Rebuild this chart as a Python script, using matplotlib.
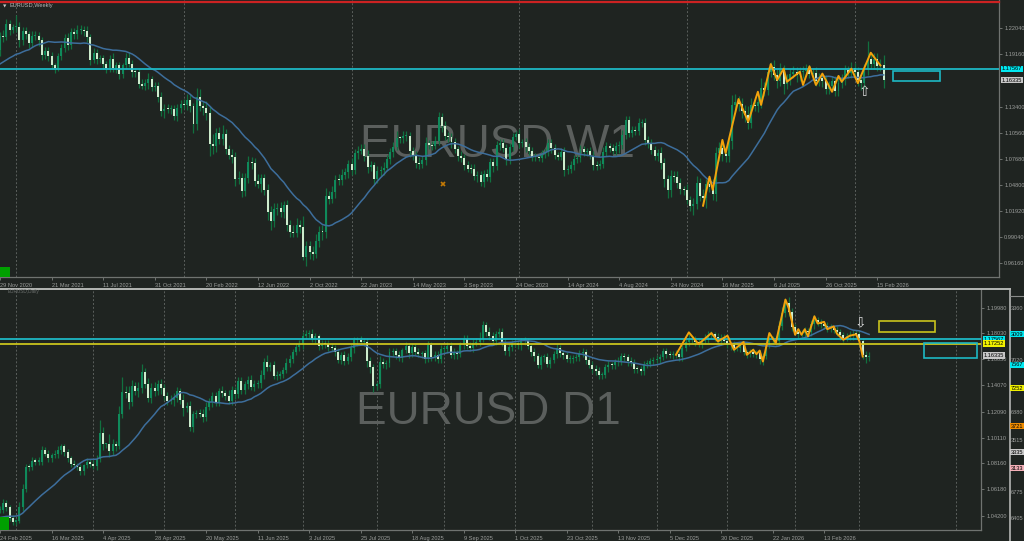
import numpy as np
import pandas as pd
import matplotlib
matplotlib.use("Agg")
import matplotlib.pyplot as plt
from matplotlib.patches import Rectangle
from matplotlib.lines import Line2D

plt.rcParams['font.family'] = ['Liberation Sans', 'DejaVu Sans']

# ------------------------------------------------------------------ data
# Weekly EURUSD (first bar = week of 29 Nov 2020); warm-up closes feed the MA only
w_warm = [1.1655, 1.1778, 1.1785, 1.1842, 1.1793, 1.1903, 1.1837, 1.1845, 1.1842, 1.1631,
          1.1718, 1.1782, 1.1815, 1.1702, 1.1647, 1.1878, 1.1834, 1.1857, 1.1963]
w_close = [
    1.2121, 1.2110, 1.2256, 1.2188, 1.2214, 1.2220, 1.2079, 1.2170, 1.2136, 1.2046,
    1.2118, 1.2118, 1.2076, 1.1915, 1.1952, 1.1904, 1.1795, 1.1763, 1.1899, 1.1983,
    1.2097, 1.2020, 1.2164, 1.2145, 1.2180, 1.2190, 1.2169, 1.2106, 1.1858, 1.1937,
    1.1865, 1.1875, 1.1810, 1.1772, 1.1869, 1.1762, 1.1796, 1.1697, 1.1795, 1.1880,
    1.1813, 1.1727, 1.1719, 1.1596, 1.1573, 1.1600, 1.1644, 1.1558, 1.1568, 1.1446,
    1.1290, 1.1317, 1.1315, 1.1317, 1.1240, 1.1325, 1.1370, 1.1359, 1.1412, 1.1344,
    1.1145, 1.1450, 1.1348, 1.1323, 1.1270, 1.0930, 1.0913, 1.1050, 1.0985, 1.1044,
    1.0877, 1.0811, 1.0790, 1.0545, 1.0551, 1.0411, 1.0557, 1.0730, 1.0719, 1.0518,
    1.0494, 1.0553, 1.0424, 1.0184, 1.0080, 1.0212, 1.0220, 1.0181, 1.0258, 1.0037,
    0.9964, 0.9955, 1.0040, 1.0015, 0.9690, 0.9801, 0.9741, 0.9720, 0.9860, 0.9966,
    0.9959, 1.0355, 1.0325, 1.0399, 1.0535, 1.0530, 1.0584, 1.0617, 1.0705, 1.0645,
    1.0830, 1.0855, 1.0870, 1.0795, 1.0677, 1.0694, 1.0545, 1.0634, 1.0640, 1.0670,
    1.0760, 1.0840, 1.0900, 1.0993, 1.0991, 1.1018, 1.1020, 1.0849, 1.0805, 1.0724,
    1.0708, 1.0750, 1.0940, 1.0920, 1.0910, 1.0968, 1.1228, 1.1125, 1.1015, 1.1004,
    1.0948, 1.0870, 1.0795, 1.0775, 1.0700, 1.0660, 1.0650, 1.0573, 1.0588, 1.0510,
    1.0594, 1.0565, 1.0730, 1.0684, 1.0914, 1.0940, 1.0883, 1.0760, 1.0895, 1.1012,
    1.1037, 1.0940, 1.0950, 1.0895, 1.0855, 1.0790, 1.0784, 1.0778, 1.0822, 1.0838,
    1.0940, 1.0890, 1.0808, 1.0790, 1.0837, 1.0642, 1.0656, 1.0695, 1.0761, 1.0771,
    1.0870, 1.0847, 1.0848, 1.0800, 1.0700, 1.0692, 1.0713, 1.0840, 1.0907, 1.0882,
    1.0855, 1.0910, 1.0916, 1.1028, 1.1193, 1.1048, 1.1083, 1.1075, 1.1162, 1.1163,
    1.0975, 1.0937, 1.0866, 1.0797, 1.0833, 1.0720, 1.0540, 1.0418, 1.0577, 1.0567,
    1.0503, 1.0430, 1.0427, 1.0308, 1.0244, 1.0271, 1.0495, 1.0362, 1.0330, 1.0490,
    1.0459, 1.0374, 1.0834, 1.0881, 1.0816, 1.0802, 1.0960, 1.1357, 1.1395, 1.1365,
    1.1298, 1.1253, 1.1163, 1.1364, 1.1347, 1.1395, 1.1550, 1.1523, 1.1718, 1.1778,
    1.1690, 1.1627, 1.1742, 1.1588, 1.1642, 1.1703, 1.1718, 1.1685, 1.1718, 1.1734,
    1.1745, 1.1703, 1.1717, 1.1625, 1.1655, 1.1626, 1.1535, 1.1565, 1.1620, 1.1513,
    1.1598, 1.1642, 1.1740, 1.1712, 1.1770, 1.1720, 1.1640, 1.1600, 1.1755, 1.1870,
    1.1815, 1.1870, 1.1790, 1.1795, 1.1634,
]
# wick lengths above / below the body, in pips
w_up = [
    45, 60, 50, 35, 40, 130, 55, 50, 45, 40, 55, 60, 40, 35, 45, 50, 40, 25, 35, 50, 45, 55, 40, 45, 55,
    50, 40, 55, 30, 45, 40, 35, 40, 30, 45, 60, 40, 35, 30, 55, 60, 40, 35, 50, 55, 45, 70, 40, 45, 50,
    60, 50, 55, 40, 45, 50, 45, 60, 70, 65, 40, 100, 90, 60, 80, 75, 110, 60, 70, 90, 50, 45, 60, 55, 80,
    60, 50, 70, 60, 60, 80, 45, 50, 60, 60, 70, 55, 75, 40, 60, 55, 70, 75, 50, 120, 65, 60, 70, 80, 60,
    70, 90, 60, 65, 50, 60, 65, 45, 50, 70, 40, 50, 55, 60, 65, 50, 40, 55, 45, 60, 50, 45, 50, 75, 30,
    60, 55, 40, 50, 45, 60, 50, 70, 30, 40, 50, 50, 40, 55, 45, 50, 45, 40, 55, 40, 40, 45, 55, 40, 45,
    45, 55, 45, 50, 45, 50, 40, 45, 50, 40, 40, 55, 40, 50, 50, 45, 40, 35, 45, 50, 40, 50, 45, 35, 45,
    55, 40, 45, 50, 40, 45, 40, 35, 50, 50, 40, 40, 55, 45, 35, 45, 40, 45, 60, 40, 50, 45, 45, 50, 40,
    55, 40, 45, 40, 45, 60, 55, 50, 70, 50, 60, 55, 40, 60, 50, 60, 80, 60, 70, 50, 65, 80, 60, 70, 90,
    80, 70, 110, 80, 60, 70, 60, 90, 70, 60, 70, 110, 60, 60, 50, 80, 70, 80, 60, 60, 55, 70, 65, 60, 60,
    70, 60, 55, 60, 60, 50, 60, 55, 55, 55, 60, 55, 60, 50, 60, 55, 60, 55, 60, 190, 70, 65, 60, 70, 110,
]
w_dn = [
    60, 55, 40, 60, 40, 50, 80, 60, 50, 55, 45, 40, 70, 60, 50, 60, 40, 50, 30, 40, 45, 50, 40, 55, 60,
    40, 45, 50, 60, 40, 50, 40, 55, 60, 50, 40, 45, 50, 35, 40, 40, 55, 50, 45, 40, 50, 60, 45, 40, 50,
    50, 70, 45, 60, 50, 60, 50, 45, 55, 60, 90, 60, 50, 70, 80, 130, 90, 70, 60, 65, 60, 50, 70, 80, 60,
    60, 50, 60, 70, 50, 50, 90, 60, 90, 100, 60, 60, 50, 70, 70, 60, 50, 50, 70, 40, 100, 80, 70, 50, 60,
    90, 60, 60, 50, 60, 50, 55, 45, 60, 60, 50, 60, 40, 55, 70, 50, 60, 50, 60, 55, 40, 45, 50, 40, 45,
    45, 50, 60, 50, 60, 50, 45, 55, 40, 50, 40, 50, 60, 45, 50, 60, 40, 50, 45, 60, 40, 45, 40, 60, 40,
    50, 45, 50, 60, 40, 45, 40, 60, 45, 45, 40, 50, 40, 50, 45, 50, 40, 40, 50, 45, 45, 55, 40, 40, 40,
    60, 40, 50, 55, 45, 40, 50, 45, 40, 55, 50, 40, 45, 40, 45, 40, 50, 80, 45, 40, 40, 45, 50, 45, 40,
    60, 55, 50, 45, 50, 70, 80, 80, 70, 60, 60, 50, 55, 40, 50, 95, 55, 60, 70, 110, 55, 60, 70, 90, 70,
    75, 70, 80, 70, 70, 80, 80, 70, 60, 50, 60, 70, 65, 55, 50, 60, 75, 60, 110, 55, 60, 50, 70, 60, 60,
    60, 50, 70, 55, 60, 65, 55, 60, 55, 60, 55, 55, 60, 60, 55, 60, 70, 75, 55, 60, 60, 55, 60, 55, 90,
]
w_tick_labels = ["29 Nov 2020", "21 Mar 2021", "11 Jul 2021", "31 Oct 2021", "20 Feb 2022",
                 "12 Jun 2022", "2 Oct 2022", "22 Jan 2023", "14 May 2023", "3 Sep 2023",
                 "24 Dec 2023", "14 Apr 2024", "4 Aug 2024", "24 Nov 2024", "16 Mar 2025",
                 "6 Jul 2025", "26 Oct 2025", "15 Feb 2026"]
w_year_starts = [5, 57, 109, 161, 213, 265]
w_price_ticks = [1.22040, 1.19160, 1.13400, 1.10560, 1.07680, 1.04800, 1.01920, 0.99040, 0.96160]
w_zz_idx = [218, 220, 221, 224, 225, 229, 232, 235, 236, 239, 241, 243, 244, 248, 249, 251, 253,
            255, 258, 260, 261, 264, 266, 270, 273]
w_zz_px = [1.0250, 1.0570, 1.0424, 1.0975, 1.0830, 1.1425, 1.1175, 1.1505, 1.1360, 1.1810, 1.1635,
           1.1760, 1.1615, 1.1725, 1.1580, 1.1785, 1.1580, 1.1705, 1.1505, 1.1680, 1.1615, 1.1760,
           1.1600, 1.1935, 1.1795]

# Daily EURUSD (first bar = 24 Feb 2025)
d_warm = [1.0425, 1.0405, 1.0365, 1.0390, 1.0345, 1.0365, 1.0325, 1.0300, 1.0330, 1.0355,
          1.0360, 1.0385, 1.0470, 1.0490, 1.0450, 1.0480, 1.0510, 1.0430, 1.0460]
d_feb25 = [1.0465, 1.0515, 1.0485, 1.0400, 1.0375]
d_mar25 = [1.0380, 1.0485, 1.0625, 1.0790, 1.0785, 1.0835, 1.0830, 1.0830, 1.0920, 1.0890,
           1.0855, 1.0880, 1.0885, 1.0920, 1.0945, 1.0900, 1.0855, 1.0815, 1.0800, 1.0790,
           1.0755, 1.0800, 1.0830, 1.0815]
d_apr25 = [1.0795, 1.0850, 1.1050, 1.0960, 1.0960, 1.0910, 1.0960, 1.0950, 1.1190, 1.1360,
           1.1350, 1.1285, 1.1400, 1.1365, 1.1390, 1.1510, 1.1420, 1.1315, 1.1390, 1.1365,
           1.1420, 1.1385]
d_may25 = [1.1330, 1.1290, 1.1295, 1.1315, 1.1365, 1.1300, 1.1235, 1.1255, 1.1090, 1.1190,
           1.1200, 1.1190, 1.1165, 1.1245, 1.1285, 1.1330, 1.1280, 1.1365, 1.1350, 1.1330,
           1.1290, 1.1370]
d_jun25 = [1.1345, 1.1440, 1.1370, 1.1415, 1.1445, 1.1395, 1.1420, 1.1425, 1.1485, 1.1585,
           1.1550, 1.1560, 1.1480, 1.1480, 1.1495, 1.1525, 1.1580, 1.1610, 1.1660, 1.1700,
           1.1720]
d_jul25 = [1.1785, 1.1800, 1.1800, 1.1760, 1.1780, 1.1710, 1.1725, 1.1720, 1.1700, 1.1690,
           1.1660, 1.1600, 1.1640, 1.1595, 1.1625, 1.1690, 1.1750, 1.1755, 1.1740, 1.1740,
           1.1590, 1.1545, 1.1405]
d_aug25 = [1.1415, 1.1585, 1.1570, 1.1575, 1.1660, 1.1665, 1.1640, 1.1615, 1.1675, 1.1705,
           1.1650, 1.1700, 1.1660, 1.1645, 1.1650, 1.1610, 1.1715, 1.1620, 1.1640, 1.1605,
           1.1685]
d_sep25 = [1.1685, 1.1710, 1.1640, 1.1660, 1.1645, 1.1715, 1.1760, 1.1710, 1.1695, 1.1730,
           1.1735, 1.1760, 1.1865, 1.1815, 1.1785, 1.1745, 1.1800, 1.1815, 1.1740, 1.1665,
           1.1700, 1.1725]
d_oct25 = [1.1730, 1.1715, 1.1745, 1.1745, 1.1710, 1.1660, 1.1630, 1.1565, 1.1620, 1.1620,
           1.1570, 1.1600, 1.1645, 1.1690, 1.1655, 1.1640, 1.1610, 1.1610, 1.1615, 1.1625,
           1.1650, 1.1660, 1.1600, 1.1565]
d_nov25 = [1.1535, 1.1520, 1.1485, 1.1490, 1.1545, 1.1565, 1.1560, 1.1585, 1.1590, 1.1630,
           1.1620, 1.1590, 1.1580, 1.1535, 1.1530, 1.1515, 1.1570, 1.1570, 1.1595, 1.1600]
d_dec25 = [1.1610, 1.1625, 1.1665, 1.1645, 1.1640, 1.1640, 1.1645, 1.1625, 1.1695, 1.1740,
           1.1750, 1.1760, 1.1740, 1.1725, 1.1745, 1.1760, 1.1790, 1.1795, 1.1775, 1.1745,
           1.1770, 1.1745]
d_jan26 = [1.1720, 1.1715, 1.1690, 1.1690, 1.1715, 1.1660, 1.1650, 1.1660, 1.1645, 1.1655,
           1.1605, 1.1630, 1.1725, 1.1760, 1.1750, 1.1745, 1.1860, 1.1960, 1.2035, 1.1965,
           1.1850]
d_feb26 = [1.1815, 1.1800, 1.1805, 1.1820, 1.1815, 1.1870, 1.1905, 1.1885, 1.1870, 1.1860,
           1.1845, 1.1840, 1.1830, 1.1810, 1.1790, 1.1770, 1.1780, 1.1790, 1.1800, 1.1795]
d_mar26 = [1.1745, 1.1640, 1.1620, 1.1634]
d_up = [
    25, 30, 20, 15, 25, 15, 40, 35, 25, 20, 30, 20, 35, 25, 20, 25, 15, 30, 25, 20, 20, 25, 15, 30, 20,
    20, 15, 25, 20, 25, 30, 95, 40, 10, 80, 40, 25, 60, 110, 45, 50, 45, 35, 40, 60, 30, 45, 35, 40, 30,
    35, 30, 25, 40, 35, 30, 25, 40, 30, 35, 25, 20, 30, 40, 35, 25, 30, 30, 20, 35, 25, 40, 30, 25, 35,
    30, 25, 35, 40, 30, 25, 40, 30, 50, 25, 30, 35, 20, 25, 35, 30, 25, 30, 35, 25, 30, 30, 35, 25, 20,
    30, 25, 35, 30, 25, 30, 20, 25, 30, 35, 25, 20, 30, 25, 30, 35, 25, 20, 45, 30, 25, 35, 30, 25, 30,
    20, 35, 25, 30, 25, 30, 20, 25, 30, 25, 30, 25, 30, 20, 30, 25, 35, 20, 25, 30, 30, 25, 30, 35, 55,
    30, 25, 35, 30, 20, 25, 30, 25, 20, 25, 30, 20, 25, 30, 25, 20, 30, 25, 20, 25, 30, 25, 20, 30, 25,
    25, 20, 30, 25, 20, 25, 30, 25, 20, 25, 30, 25, 20, 25, 30, 20, 25, 30, 25, 20, 25, 30, 25, 20, 25,
    25, 30, 20, 25, 30, 20, 25, 30, 20, 25, 30, 25, 20, 30, 50, 25, 20, 30, 25, 35, 30, 25, 20, 30, 25,
    30, 25, 20, 30, 20, 25, 30, 20, 25, 30, 25, 20, 25, 30, 45, 25, 30, 35, 40, 30, 40, 30, 25, 30, 25,
    30, 25, 35, 40, 25, 30, 25, 30, 25, 20, 30, 25, 20, 25, 30, 25, 30, 25, 20, 25, 30,
]
d_dn = [
    20, 25, 30, 20, 25, 25, 20, 30, 25, 30, 20, 25, 30, 25, 20, 30, 25, 20, 25, 35, 25, 30, 25, 20, 25,
    25, 30, 20, 25, 20, 30, 25, 40, 30, 45, 30, 40, 25, 30, 40, 60, 35, 30, 45, 40, 30, 35, 40, 35, 30,
    40, 35, 30, 25, 40, 30, 35, 60, 30, 25, 35, 30, 25, 35, 30, 25, 40, 30, 25, 30, 35, 25, 30, 40, 30,
    25, 30, 35, 25, 30, 35, 40, 25, 30, 35, 25, 30, 20, 30, 25, 35, 30, 25, 30, 35, 25, 30, 25, 30, 35,
    25, 30, 35, 25, 30, 25, 30, 35, 25, 30, 35, 40, 25, 30, 45, 40, 50, 35, 25, 30, 35, 25, 30, 35, 25,
    30, 25, 35, 30, 25, 20, 30, 35, 25, 30, 25, 30, 25, 35, 30, 25, 30, 35, 25, 30, 25, 30, 35, 25, 30,
    25, 30, 35, 25, 30, 25, 30, 25, 35, 30, 25, 30, 35, 30, 25, 30, 35, 25, 30, 35, 25, 30, 25, 30, 35,
    30, 25, 30, 35, 25, 30, 25, 30, 25, 30, 35, 25, 30, 25, 35, 30, 25, 30, 25, 30, 35, 25, 30, 25, 30,
    25, 30, 25, 30, 25, 30, 25, 30, 25, 30, 25, 30, 35, 25, 30, 25, 30, 25, 30, 25, 30, 25, 30, 25, 30,
    25, 30, 35, 30, 25, 30, 25, 35, 30, 25, 30, 35, 40, 25, 30, 25, 30, 25, 30, 35, 30, 30, 25, 30, 25,
    30, 25, 30, 35, 25, 30, 25, 35, 30, 25, 30, 35, 30, 25, 30, 35, 30, 40, 35, 40, 30,
]
d_tick_labels = ["24 Feb 2025", "16 Mar 2025", "4 Apr 2025", "28 Apr 2025", "20 May 2025",
                 "11 Jun 2025", "3 Jul 2025", "25 Jul 2025", "18 Aug 2025", "9 Sep 2025",
                 "1 Oct 2025", "23 Oct 2025", "13 Nov 2025", "5 Dec 2025", "30 Dec 2025",
                 "22 Jan 2026", "13 Feb 2026"]
d_month_starts = [5, 29, 51, 73, 94, 117, 138, 160, 184, 204, 226, 247, 267, 297]
d_price_ticks = [1.19980, 1.18030, 1.16050, 1.14070, 1.12090, 1.10110, 1.08160, 1.06180, 1.04200]
d_zz_idx = [210, 214, 217, 221, 223, 226, 228, 231, 232, 234, 235, 236, 237, 239, 241, 244, 245,
            247, 248, 249, 250, 251, 253, 254, 256, 257, 259, 260, 262, 264, 266, 267, 268]
d_zz_px = [1.1640, 1.1810, 1.1721, 1.1805, 1.1741, 1.1785, 1.1678, 1.1737, 1.1640, 1.1678, 1.1645,
           1.1672, 1.1589, 1.1805, 1.1729, 1.2059, 1.1995, 1.1792, 1.1834, 1.1792, 1.1834, 1.1780,
           1.1932, 1.1877, 1.1890, 1.1834, 1.1855, 1.1800, 1.1754, 1.1785, 1.1795, 1.1740, 1.1627]

level_cyan = 1.17567
level_yellow = 1.17252
last_price = 1.16335

d_close = (d_feb25 + d_mar25 + d_apr25 + d_may25 + d_jun25 + d_jul25 + d_aug25 + d_sep25 +
           d_oct25 + d_nov25 + d_dec25 + d_jan26 + d_feb26 + d_mar26)

# ------------------------------------------------------------------ style
W, H = 1024, 541
BG = '#1f2421'
BULL = '#0f8a5b'
BEAR = '#cdeccd'
WICK = '#11703f'
MA_C = '#3d6e9c'
ZZ_C = '#f2a20c'
CYAN = '#1db8c4'
YEL = '#c9c31d'
AXC = '#6f7370'
TXT = '#9c9e9c'
GRID = '#5a5f5c'
WM = '#5b5f5d'
FS = 4.1

fig = plt.figure(figsize=(W / 100, H / 100), dpi=100, facecolor=BG)


def box(l, t, r, b):
    return [l / W, 1 - b / H, (r - l) / W, (b - t) / H]


ax1 = fig.add_axes(box(0, 0, 999, 277))
ax2 = fig.add_axes(box(0, 289, 981, 530))
for ax in (ax1, ax2):
    ax.set_facecolor(BG)
    ax.spines['left'].set_visible(False)
    ax.spines['top'].set_visible(False)
    for s in ('right', 'bottom'):
        ax.spines[s].set_color(AXC)
        ax.spines[s].set_linewidth(0.9)

ax1.set_xlim(0, 999 / 3.225)
ax1.set_ylim(0.94651, 1.25157)
ax2.set_xlim(0, 981 / 3.219)
ax2.set_ylim(1.03106, 1.21391)


def candles(ax, closes, first_open, up, dn, min_h):
    n = min(len(closes), len(up), len(dn))
    c = np.asarray(closes[:n], float)
    o = np.concatenate([[first_open], c[:-1]])
    hi = np.maximum(o, c) + np.asarray(up[:n]) * 1e-4
    lo = np.minimum(o, c) - np.asarray(dn[:n]) * 1e-4
    x = np.arange(n)
    ax.vlines(x, lo, hi, colors=WICK, lw=0.9, zorder=2)
    bull = c >= o
    bot = np.minimum(o, c)
    h = np.maximum(np.abs(c - o), min_h)
    ax.bar(x[bull], h[bull], bottom=bot[bull], width=0.62, color=BULL, lw=0, zorder=3)
    ax.bar(x[~bull], h[~bull], bottom=bot[~bull], width=0.62, color=BEAR, lw=0, zorder=3)
    return n


def sma(warm, closes, n=20):
    s = pd.Series(list(warm) + list(closes)).rolling(n, min_periods=1).mean().to_numpy()
    return s[len(warm):]


# ---------------- weekly panel
for xi in w_year_starts:
    ax1.axvline(xi, color=GRID, lw=0.7, ls=(0, (2, 2)), zorder=1)
ax1.text(497 / 999, 1 - 157 / 277, 'EURUSD W1', transform=ax1.transAxes, ha='center',
         va='baseline', fontsize=33, color=WM, family='Liberation Sans', zorder=0.5)
nw = candles(ax1, w_close, w_warm[-1], w_up, w_dn, 0.0011)
ax1.plot(np.arange(len(w_close)), sma(w_warm, w_close), color=MA_C, lw=1.1, zorder=4)
ax1.axhline(level_cyan, color=CYAN, lw=1.3, zorder=4)
ax1.plot(w_zz_idx, w_zz_px, color=ZZ_C, lw=1.4, zorder=5)
ax1.add_patch(Rectangle((277.0, 1.1624), 14.4, 0.0110, fill=False, ec=CYAN, lw=1.2, zorder=5))
ax1.text(267.9, 1.1502, '\u21e7', ha='center', va='center', fontsize=10, color='#dcdcdc',
         family='DejaVu Sans', zorder=6)
ax1.plot([137.4], [1.0489], marker='x', ms=3.5, mew=1.2, color='#c47a05', zorder=6, lw=0)

ax1.yaxis.tick_right()
ax1.set_yticks(w_price_ticks)
ax1.set_yticklabels([f'{v:.5f}' for v in w_price_ticks])
ax1.set_xticks(np.arange(0, 16 * len(w_tick_labels), 16))
ax1.set_xticklabels(w_tick_labels, ha='left')

# ---------------- daily panel
for xi in d_month_starts:
    ax2.axvline(xi, color=GRID, lw=0.7, ls=(0, (2, 2)), zorder=1)
ax2.text(488 / 981, (530 - 424) / 241, 'EURUSD D1', transform=ax2.transAxes, ha='center',
         va='baseline', fontsize=33, color=WM, family='Liberation Sans', zorder=0.5)
nd = candles(ax2, d_close, d_warm[-1], d_up, d_dn, 0.0008)
ax2.plot(np.arange(len(d_close)), sma(d_warm, d_close), color=MA_C, lw=1.1, zorder=4)
ax2.axhline(level_cyan, color=CYAN, lw=1.3, zorder=4)
ax2.axhline(level_yellow, color=YEL, lw=1.3, zorder=4)
ax2.plot(d_zz_idx, d_zz_px, color=ZZ_C, lw=1.4, zorder=5)
ax2.add_patch(Rectangle((273.1, 1.1813), 17.4, 0.0083, fill=False, ec=YEL, lw=1.2, zorder=5))
ax2.add_patch(Rectangle((287.0, 1.1616), 16.5, 0.0113, fill=False, ec=CYAN, lw=1.2, zorder=5))
ax2.text(267.2, 1.1889, '\u21e9', ha='center', va='center', fontsize=10, color='#dcdcdc',
         family='DejaVu Sans', zorder=6)

ax2.yaxis.tick_right()
ax2.set_yticks(d_price_ticks)
ax2.set_yticklabels([f'{v:.5f}' for v in d_price_ticks])
ax2.set_xticks(np.arange(0, 16 * len(d_tick_labels), 16))
ax2.set_xticklabels(d_tick_labels, ha='left')

for ax in (ax1, ax2):
    ax.tick_params(axis='both', colors=AXC, labelcolor=TXT, labelsize=FS, length=2.5, width=0.7)
    ax.tick_params(axis='y', pad=1.2)
    ax.tick_params(axis='x', pad=1.5)


def price_box(ax, axw, price, txt, fc):
    ax.text(1 + 2.5 / axw, price, txt, transform=ax.get_yaxis_transform(), fontsize=FS,
            color='#000000', ha='left', va='center', clip_on=False, zorder=10,
            bbox=dict(boxstyle='square,pad=0.15', fc=fc, ec='none'))


price_box(ax1, 999, level_cyan, f'{level_cyan:.5f}', '#00e8f0')
price_box(ax1, 999, last_price, f'{last_price:.5f}', '#c8c8c8')
price_box(ax2, 981, level_cyan, f'{level_cyan:.5f}', '#00e8f0')
price_box(ax2, 981, level_yellow, f'{level_yellow:.5f}', '#f0f000')
price_box(ax2, 981, last_price, f'{last_price:.5f}', '#c8c8c8')

# ---------------- terminal chrome
def fig_line(x0, y0, x1, y1, color, lw):
    fig.add_artist(Line2D([x0 / W, x1 / W], [1 - y0 / H, 1 - y1 / H], color=color, lw=lw,
                          transform=fig.transFigure))


fig_line(0, 1.5, 999, 1.5, '#cc2222', 1.6)
fig_line(0, 288.5, 1009.5, 288.5, '#b4b6b4', 1.4)
fig_line(1009.5, 288.5, 1009.5, 541, '#b4b6b4', 1.2)
fig_line(1010, 296, 1024, 296, '#8a8c8a', 0.8)
fig.add_artist(Rectangle((0, 1 - 277 / H), 10 / W, 10 / H, transform=fig.transFigure,
                         fc='#00a000', ec='none'))
fig.add_artist(Rectangle((0, 1 - 530 / H), 9 / W, 13 / H, transform=fig.transFigure,
                         fc='#00a000', ec='none'))
fig.text(3 / W, 1 - 6 / H, '\u25bc', fontsize=3.2, color='#c8c8c8', va='center',
         family='DejaVu Sans')
fig.text(10 / W, 1 - 6 / H, 'EURUSD,Weekly', fontsize=FS, color='#b8b8b8', va='center')
fig.text(8 / W, 1 - 291.5 / H, 'EURUSD,Daily', fontsize=3.4, color='#6a6e6c', va='center')

strip = [("3360", 309, None, '#9c9e9c'), ("3009", 334, '#00e8f0', '#000000'),
         ("7020", 360, None, '#9c9e9c'), ("7567", 365, '#00e8f0', '#000000'),
         ("7252", 388, '#f0f000', '#000000'), ("6880", 413, None, '#9c9e9c'),
         ("3721", 426, '#f08c00', '#000000'), ("3515", 440, None, '#9c9e9c'),
         ("3335", 452, '#c8c8c8', '#000000'), ("3133", 468, '#f4b0b8', '#000000'),
         ("6775", 492, None, '#9c9e9c'), ("6405", 518, None, '#9c9e9c')]
for t, yy, fc, tc in strip:
    kw = dict(bbox=dict(boxstyle='square,pad=0.15', fc=fc, ec='none')) if fc else {}
    fig.text(1011 / W, 1 - yy / H, t, fontsize=FS, color=tc, va='center', ha='left', **kw)

fig.savefig('out.png', dpi=100, facecolor=BG)
